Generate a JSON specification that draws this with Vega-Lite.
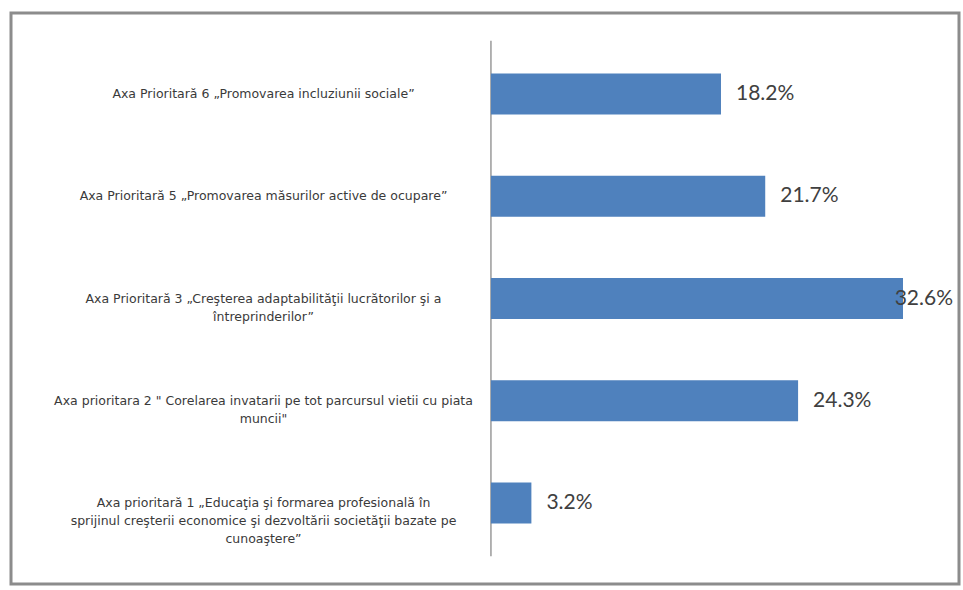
{
  "$schema": "https://vega.github.io/schema/vega-lite/v6.json",
  "width": 948,
  "height": 571,
  "autosize": {"type": "none"},
  "padding": {"left": 11, "top": 13, "right": 4, "bottom": 6},
  "background": "white",
  "config": {
    "view": {"stroke": "#8c8c8c", "strokeWidth": 3}
  },
  "data": {
    "values": [
      {"axa": "Axa Prioritară 6 „Promovarea incluziunii sociale”", "share": 0.182},
      {"axa": "Axa Prioritară 5 „Promovarea măsurilor active de ocupare”", "share": 0.217},
      {"axa": "Axa Prioritară 3 „Creşterea adaptabilităţii lucrătorilor şi a|întreprinderilor”", "share": 0.326},
      {"axa": "Axa prioritara 2 \" Corelarea invatarii pe tot parcursul vietii cu piata|muncii\"", "share": 0.243},
      {"axa": "Axa prioritară 1 „Educaţia şi formarea profesională în|sprijinul  creşterii economice şi dezvoltării societăţii bazate pe|cunoaştere”", "share": 0.032}
    ]
  },
  "layer": [
    {
      "data": {"values": [{"lo": 0, "hi": 1}]},
      "mark": {"type": "rule", "color": "#9a9a9a", "strokeWidth": 1.5},
      "encoding": {
        "x": {"datum": 0, "type": "quantitative", "scale": {"domain": [-0.3797, 0.3703]}, "axis": null},
        "y": {"field": "lo", "type": "quantitative", "scale": {"domain": [-0.054, 1.054]}, "axis": null},
        "y2": {"field": "hi"}
      }
    },
    {
      "encoding": {
        "y": {
          "field": "axa",
          "type": "nominal",
          "sort": null,
          "scale": {"paddingInner": 0.6, "paddingOuter": 0.592},
          "axis": {
            "orient": "left",
            "offset": -480,
            "domain": false,
            "ticks": false,
            "title": null,
            "labelAlign": "center",
            "labelBaseline": "middle",
            "labelPadding": 228,
            "labelLimit": 0,
            "labelFont": "DejaVu Sans",
            "labelFontSize": 12.5,
            "labelColor": "#3a3a3a",
            "labelLineHeight": 18,
            "labelExpr": "split(datum.value, '|')"
          }
        },
        "x": {"field": "share", "type": "quantitative", "scale": {"domain": [-0.3797, 0.3703]}, "axis": null}
      },
      "layer": [
        {"mark": {"type": "bar", "color": "#4F81BD"}},
        {
          "transform": [{"filter": "datum.share < 0.3"}],
          "mark": {"type": "text", "align": "left", "baseline": "middle", "dx": 15, "font": "Lato", "fontSize": 21, "color": "#404040"},
          "encoding": {"text": {"field": "share", "type": "quantitative", "format": ".1%"}}
        },
        {
          "transform": [{"filter": "datum.share >= 0.3"}],
          "mark": {"type": "text", "align": "right", "baseline": "middle", "dx": 50, "font": "Lato", "fontSize": 21, "color": "#404040"},
          "encoding": {"text": {"field": "share", "type": "quantitative", "format": ".1%"}}
        }
      ]
    }
  ],
  "resolve": {"scale": {"y": "independent"}, "axis": {"y": "independent"}}
}
